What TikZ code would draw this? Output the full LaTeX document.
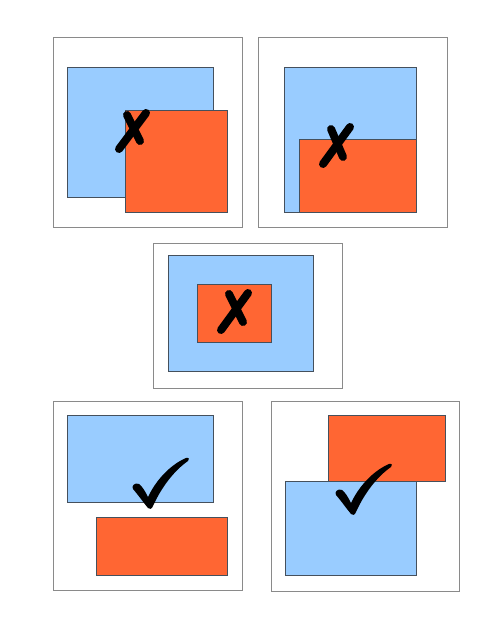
\documentclass[tikz,border=0pt]{standalone}
\usepackage{tikz}
\definecolor{panelgray}{HTML}{8A8A8A}
\definecolor{edgegray}{HTML}{45505C}
\definecolor{lightblue}{HTML}{99CCFF}
\definecolor{redorange}{HTML}{FF6633}
\tikzset{
  panel/.style={draw=panelgray, line width=1pt, fill=white},
  bluebox/.style={draw=edgegray, line width=0.7pt, fill=lightblue},
  orangebox/.style={draw=edgegray, line width=0.7pt, fill=redorange},
  crossline/.style={line width=8pt, line cap=round, draw=black},
  checkmark/.pic={
    \fill[black] (0,2) .. controls (-5,-4) and (-9,-10) .. (-15,-17)
      .. controls (-17,-20) and (-13,-24) .. (-9,-22)
      .. controls (-6,-20) and (-3,-15) .. (0,-9)
      .. controls (9,-28) and (24,-42) .. (38,-48)
      .. controls (41,-49) and (42,-46) .. (40,-45)
      .. controls (27,-36) and (14,-20) .. (5,0)
      .. controls (4,3) and (1,4) .. (0,2) -- cycle;
  }
}
\begin{document}
\begin{tikzpicture}[x=1pt,y=-1pt]
\useasboundingbox (0,0) rectangle (494,639);
% panel 1
\draw[panel] (53,38) rectangle (242,227);
\draw[bluebox] (67,67) rectangle (213,197);
\draw[orangebox] (125,110) rectangle (227,212);
\draw[crossline] (119,149) -- (146,113);
\draw[crossline] (127,115) -- (140,141);
% panel 2
\draw[panel] (258,38) rectangle (447,227);
\draw[bluebox] (284,67) rectangle (416,212);
\draw[orangebox] (299,139) rectangle (416,212);
\draw[crossline] (323,164) -- (350,127);
\draw[crossline] (331,129) -- (343,157);
% panel 3
\draw[panel] (153,243) rectangle (342,388);
\draw[bluebox] (168,255) rectangle (313,371);
\draw[orangebox] (197,284) rectangle (271,342);
\draw[crossline] (221,330) -- (248,293);
\draw[crossline] (229,294) -- (243,322);
% panel 4
\draw[panel] (53,401) rectangle (242,590);
\draw[bluebox] (67,415) rectangle (213,502);
\draw[orangebox] (96,517) rectangle (227,575);
\pic at (148,506) {checkmark};
% panel 5
\draw[panel] (271,401) rectangle (459,591);
\draw[orangebox] (328,415) rectangle (445,481);
\draw[bluebox] (285,481) rectangle (416,575);
\pic at (351,512) {checkmark};
\end{tikzpicture}
\end{document}
